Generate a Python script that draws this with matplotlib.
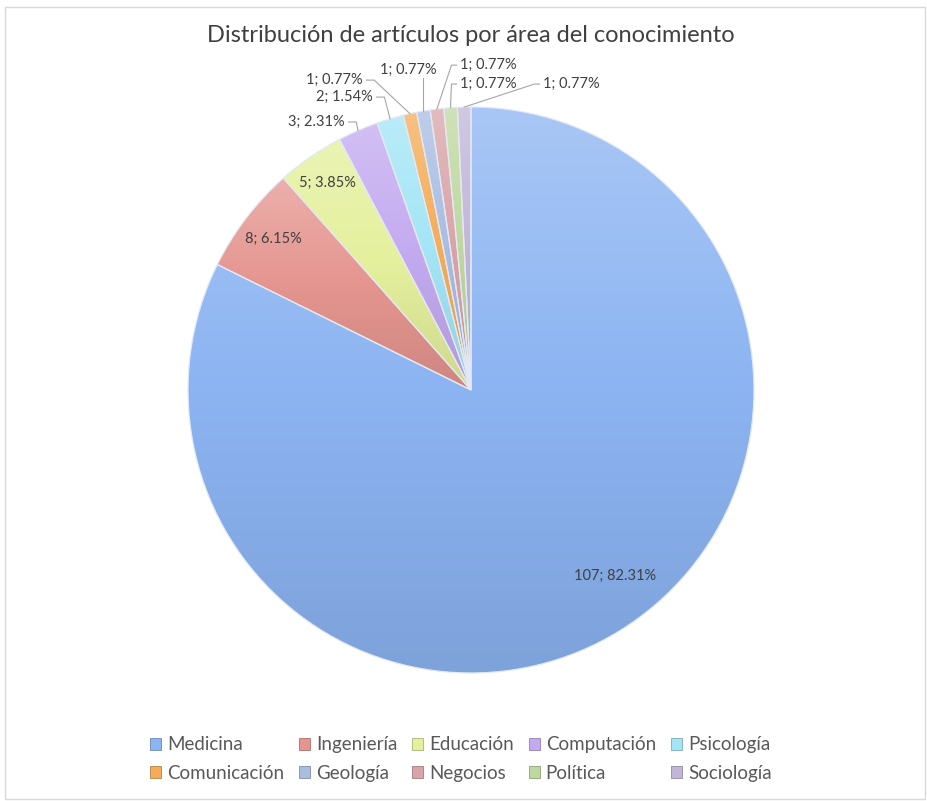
import numpy as np
import matplotlib.pyplot as plt
from matplotlib.patches import Patch, Rectangle
from matplotlib.colors import LinearSegmentedColormap, to_rgb

plt.rcParams['font.family'] = ['Lato', 'DejaVu Sans']

# datos
areas = ["Medicina", "Ingeniería", "Educación", "Computación", "Psicología",
         "Comunicación", "Geología", "Negocios", "Política", "Sociología"]
articulos = [107, 8, 5, 3, 2, 1, 1, 1, 1, 1]
colores = ["#8CB4F2", "#E5958F", "#E4F09C", "#C3AAF0", "#A3E5F6",
           "#F4AC58", "#A9BDE2", "#D9A4A8", "#BFD8A0", "#C1B6D8"]

total = sum(articulos)
etiquetas = ["%d; %.2f%%" % (n, 100.0 * n / total) for n in articulos]

# posicion de etiquetas: dentro (fraccion del radio, giro en grados)
# o fuera (x, y, alineacion)
dentro = {0: (0.83, 6.0), 1: (0.88, 0.0), 2: (0.89, 0.0)}
fuera = {3: (-0.445, 0.947, "right"), 4: (-0.346, 1.035, "right"),
         5: (-0.382, 1.095, "right"), 6: (-0.223, 1.131, "center"),
         7: (-0.039, 1.148, "left"), 8: (-0.039, 1.081, "left"),
         9: (0.254, 1.081, "left")}

fig = plt.figure(figsize=(9.27, 8.01), dpi=100)
fig.patches.append(Rectangle((5 / 927, 2 / 801), 920 / 927, 792 / 801,
                             transform=fig.transFigure, fill=False,
                             edgecolor="#D9D9D9", linewidth=1))

cx, cy, r = 471, 390, 283
ax = fig.add_axes([(cx - r) / 927, (801 - cy - r) / 801, 2 * r / 927, 2 * r / 801])
wedges, _ = ax.pie(articulos, startangle=90, counterclock=False, radius=1,
                   colors=colores,
                   wedgeprops=dict(edgecolor="#E3E9F2", linewidth=0.9))


def mezcla(c, otro, t):
    c = np.array(to_rgb(c))
    return tuple(c * (1 - t) + np.array(otro) * t)


# relleno con degradado (claro arriba, oscuro abajo)
for w, c in zip(wedges, colores):
    bb = w.get_path().get_extents(w.get_transform() - ax.transData)
    cmap = LinearSegmentedColormap.from_list(
        "g", [mezcla(c, (0, 0, 0), 0.10), c, mezcla(c, (1, 1, 1), 0.25)])
    grad = np.linspace(0, 1, 256).reshape(-1, 1)
    im = ax.imshow(grad, cmap=cmap, origin="lower", aspect="auto",
                   extent=[-1, 1, bb.y0, bb.y1], zorder=0.5)
    im.set_clip_path(w)
    w.set_facecolor("none")

ax.set_xlim(-1, 1)
ax.set_ylim(-1, 1)
ax.set_aspect("equal")
ax.axis("off")

for i, w in enumerate(wedges):
    ang = np.deg2rad((w.theta1 + w.theta2) / 2)
    if i in dentro:
        f, giro = dentro[i]
        a = ang + np.deg2rad(giro)
        ax.text(f * np.cos(a), f * np.sin(a), etiquetas[i], ha="center",
                va="center", fontsize=10.5, color="#404040")
    else:
        x, y, ha = fuera[i]
        ax.text(x, y, etiquetas[i], ha=ha, va="center", fontsize=10.5,
                color="#404040")
        px, py = np.cos(ang), np.sin(ang)
        if ha == "right":
            xs, ys = [x + 0.012, x + 0.04, px], [y, y, py]
        elif ha == "left":
            xs, ys = [x - 0.012, x - 0.03, px], [y, y, py]
        else:
            xs, ys = [px, px], [y - 0.03, py]
        ax.plot(xs, ys, color="#A6A6A6", linewidth=0.8, clip_on=False)

fig.text(0.508, 1 - 35 / 801, "Distribución de artículos por área del conocimiento",
         ha="center", va="center", fontsize=17, color="#404040")

# leyenda por filas
orden = [0, 5, 1, 6, 2, 7, 3, 8, 4, 9]
handles = [Patch(facecolor=colores[i], edgecolor=mezcla(colores[i], (0, 0, 0), 0.25),
                 linewidth=0.6, label=areas[i]) for i in orden]
fig.legend(handles=handles, loc="center", bbox_to_anchor=(0.497, 1 - 759 / 801),
           ncol=5, frameon=False, fontsize=13.5, handlelength=0.6,
           handleheight=0.6, handletextpad=0.3, columnspacing=0.8,
           labelspacing=0.6, labelcolor="#595959")

fig.savefig("out.png", dpi=100)
